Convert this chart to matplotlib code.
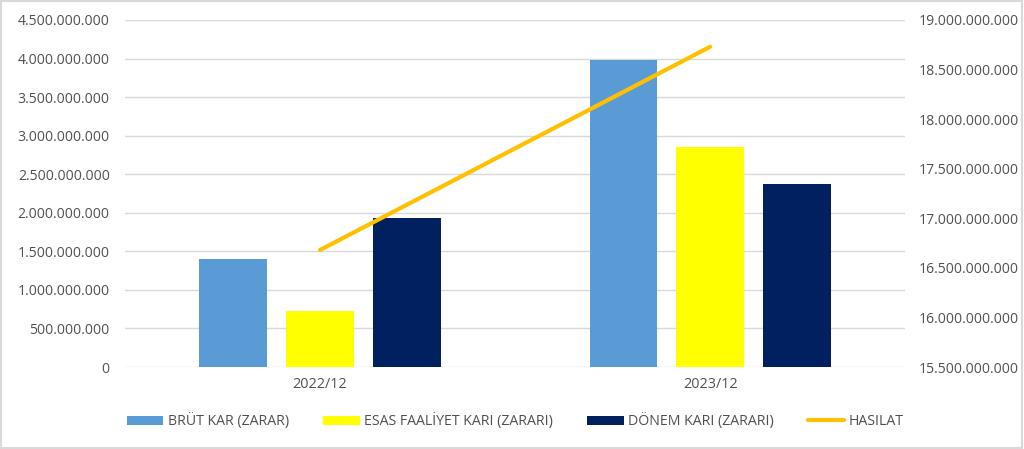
import matplotlib
matplotlib.use("Agg")
import matplotlib.pyplot as plt
import numpy as np
from matplotlib.ticker import FuncFormatter, MultipleLocator
from matplotlib.patches import Rectangle

categories = ["2022/12", "2023/12"]
brut_kar = [1.40e9, 3.98e9]
esas_faaliyet = [0.725e9, 2.855e9]
donem_kari = [1.935e9, 2.375e9]
hasilat = [16.68e9, 18.73e9]

series_names = ["BRÜT KAR (ZARAR)", "ESAS FAALİYET KARI (ZARARI)", "DÖNEM KARI (ZARARI)", "HASILAT"]
colors = ["#5B9BD5", "#FFFF00", "#002060", "#FFC000"]

plt.rcParams['font.family'] = ['Open Sans', 'DejaVu Sans']
txt_color = "#505050"

fig = plt.figure(figsize=(10.24, 4.49), dpi=100)
ax = fig.add_axes([0.122, 0.1826, 0.762, 0.7729])
ax2 = ax.twinx()

x = np.arange(len(categories))
w = 0.174
step = 0.222
b1 = ax.bar(x - step, brut_kar, w, color=colors[0], label=series_names[0], zorder=3)
b2 = ax.bar(x, esas_faaliyet, w, color=colors[1], label=series_names[1], zorder=3)
b3 = ax.bar(x + step, donem_kari, w, color=colors[2], label=series_names[2], zorder=3)
l1, = ax2.plot(x, hasilat, color=colors[3], lw=3, label=series_names[3], solid_capstyle='round', zorder=4)

fmt = FuncFormatter(lambda v, p: f"{v:,.0f}".replace(",", "."))
ax.set_ylim(0, 4.5e9)
ax.yaxis.set_major_locator(MultipleLocator(5e8))
ax.yaxis.set_major_formatter(fmt)
ax2.set_ylim(15.5e9, 19e9)
ax2.yaxis.set_major_locator(MultipleLocator(5e8))
ax2.yaxis.set_major_formatter(fmt)
ax.set_xlim(-0.5, 1.5)
ax.set_xticks(x)
ax.set_xticklabels(categories)

for a in (ax, ax2):
    for s in a.spines.values():
        s.set_visible(False)
    a.tick_params(length=0, colors=txt_color, labelsize=10.1)
ax.tick_params(axis='y', pad=11)
ax2.tick_params(axis='y', pad=10)
ax.tick_params(axis='x', pad=7, labelsize=10.4)
ax.grid(axis='y', color="#D9D9D9", lw=1, zorder=0)
ax.set_axisbelow(True)

leg = fig.legend(handles=[b1, b2, b3, l1], labels=series_names, loc='center',
                 bbox_to_anchor=(0.503, 0.062), ncol=4, frameon=False,
                 fontsize=10.2, labelcolor=txt_color, handlelength=2.6, handleheight=0.6,
                 handletextpad=0.3, columnspacing=2.4)

fig.patches.append(Rectangle((0.001, 0.002), 0.997, 0.995, transform=fig.transFigure,
                             fill=False, edgecolor="#D9D9D9", lw=1.5))

fig.savefig("out.png", dpi=100, facecolor="white")
